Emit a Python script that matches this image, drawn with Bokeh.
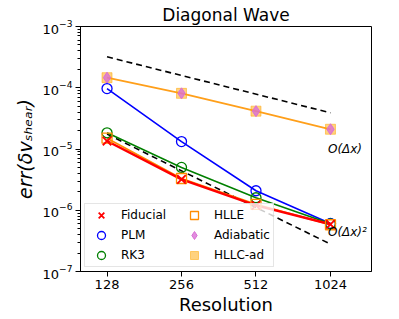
import numpy as np
from bokeh.plotting import figure
from bokeh.models import Range1d, FixedTicker, BasicTickFormatter, Legend, LegendItem
from bokeh.embed import file_html
from bokeh.resources import INLINE
from bokeh.core.properties import value

# ---- data ----
resolution = [128, 256, 512, 1024]
fiducial = [1.35e-5, 3.2e-6, 1.2e-6, 5.9e-7]
plm = [9.7e-5, 1.32e-5, 2.08e-6, 6.1e-7]
rk3 = [1.84e-5, 5.0e-6, 1.6e-6, 6.0e-7]
hlle = [1.5e-5, 3.3e-6, 1.25e-6, 5.8e-7]
adiabatic = [1.46e-4, 8.1e-5, 4.15e-5, 2.1e-5]
hllc_ad = [1.46e-4, 8.1e-5, 4.15e-5, 2.1e-5]

ref_x = [128, 1024]
first_order = [3.2e-4, 3.9e-5]
second_order = [1.75e-5, 2.8e-7]

note_x = [1000, 1000]
note_y = [1.0e-5, 4.4e-7]
note_text = ["O(Δx)", "O(Δx)²"]

x_ticks = [128, 256, 512, 1024]

FONT = "DejaVu Sans"

p = figure(width=399, height=319, x_axis_type="log", y_axis_type="log",
           x_range=Range1d(100, 1500), y_range=Range1d(1e-7, 1e-3),
           output_backend="svg", toolbar_location=None,
           min_border_left=80, min_border_right=28, min_border_bottom=48, min_border_top=22,
           title="Diagonal Wave")
p.title.text_font = FONT
p.title.text_font_size = "17px"
p.title.text_font_style = "normal"
p.title.align = "center"
p.title.standoff = 4
p.title.text_color = "black"

p.xgrid.visible = False
p.ygrid.visible = False
p.outline_line_color = "black"
p.outline_line_width = 1
p.background_fill_color = "white"

for ax in (p.xaxis[0], p.yaxis[0]):
    ax.major_label_text_font = FONT
    ax.major_label_text_font_size = "13px"
    ax.major_label_text_color = "black"
    ax.major_label_standoff = 3
    ax.axis_line_color = "black"
    ax.major_tick_line_color = "black"
    ax.minor_tick_line_color = "black"
    ax.major_tick_out = 5
    ax.major_tick_in = 0
    ax.minor_tick_out = 3
    ax.minor_tick_in = 0
    ax.axis_label_text_font = FONT
    ax.axis_label_text_font_size = "18px"
    ax.axis_label_text_color = "black"

p.xaxis.ticker = FixedTicker(ticks=x_ticks)
p.xaxis.formatter = BasicTickFormatter()
p.xaxis.axis_label = "Resolution"
p.xaxis.axis_label_text_font_style = "normal"
p.xaxis.axis_label_standoff = 2
p.yaxis.axis_label = "err(δvₛₕₑₐᵣ)"
p.yaxis.axis_label_text_font_style = "italic"
p.yaxis.axis_label_text_font_size = "19px"
p.yaxis.axis_label_standoff = 4

# reference slopes
p.line(ref_x, first_order, line_color="black", line_dash="6 4", line_width=1.6)
p.line(ref_x, second_order, line_color="black", line_dash="6 4", line_width=1.6)

# lines
p.line(resolution, plm, line_color="blue", line_width=1.6)
p.line(resolution, rk3, line_color="green", line_width=1.6)
p.line(resolution, hllc_ad, line_color="#ff9f1a", line_width=1.8)
p.line(resolution, hlle, line_color="darkorange", line_width=1.8)
p.line(resolution, fiducial, line_color="red", line_width=2.4)

# markers
r_hllc = p.scatter(resolution, hllc_ad, marker="square", size=10, fill_color="#ffa500",
                   fill_alpha=0.5, line_color="#ffa500", line_alpha=0.5)
r_adi = p.scatter(resolution, adiabatic, marker="diamond", size=11, fill_color="orchid",
                  line_color="orchid", fill_alpha=0.8)
r_plm = p.scatter(resolution, plm, marker="circle", size=10, fill_color=None,
                  line_color="blue", line_width=1.3)
r_rk3 = p.scatter(resolution, rk3, marker="circle", size=10, fill_color=None,
                  line_color="green", line_width=1.3)
r_hlle = p.scatter(resolution, hlle, marker="square", size=10, fill_color=None,
                   line_color="darkorange", line_width=1.3)
r_fid = p.scatter(resolution, fiducial, marker="x", size=12, line_color="red", line_width=1.8)

p.text(note_x, note_y, text=note_text, text_font=value(FONT), text_font_size="12px",
       text_font_style="italic", text_color="black", text_baseline="alphabetic", text_align="left")

legend = Legend(items=[
    LegendItem(label="Fiducial", renderers=[r_fid]),
    LegendItem(label="PLM", renderers=[r_plm]),
    LegendItem(label="RK3", renderers=[r_rk3]),
    LegendItem(label="HLLE", renderers=[r_hlle]),
    LegendItem(label="Adiabatic", renderers=[r_adi]),
    LegendItem(label="HLLC-ad", renderers=[r_hllc]),
], location="bottom_left", nrows=3)
legend.label_text_font = FONT
legend.label_text_font_size = "12px"
legend.label_text_color = "black"
legend.glyph_height = 20
legend.glyph_width = 30
legend.spacing = -4
legend.padding = 1
legend.margin = 4
legend.label_standoff = 5
legend.label_height = 14
legend.label_width = 58
legend.border_line_color = "#cccccc"
legend.background_fill_alpha = 0.8
p.add_layout(legend)

open("out.html", "w").write(file_html(p, INLINE))
